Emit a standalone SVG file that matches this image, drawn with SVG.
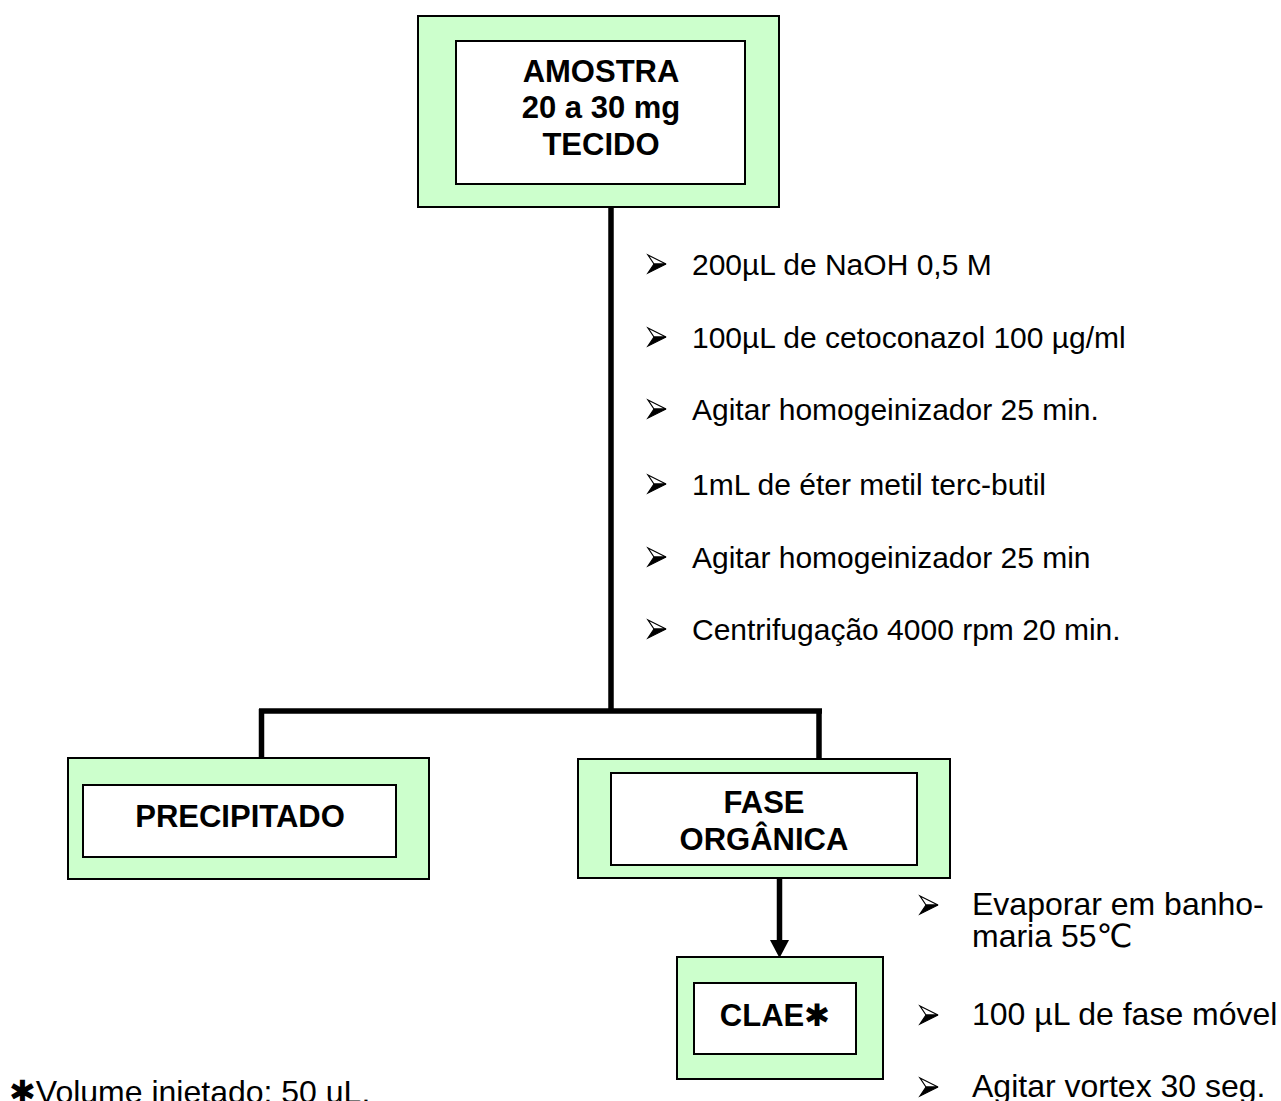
<svg xmlns="http://www.w3.org/2000/svg" xmlns:xlink="http://www.w3.org/1999/xlink" width="1281" height="1101" viewBox="0 0 1281 1101">
<style>
.outer{fill:#CCFFCC;stroke:#000;stroke-width:2}
.inner{fill:#FFFFFF;stroke:#000;stroke-width:2}
.bt{font-family:"Liberation Sans","DejaVu Sans",Arial,sans-serif;font-weight:bold;font-size:31px;fill:#000;text-anchor:middle}
.lt{font-family:"Liberation Sans","DejaVu Sans",Arial,sans-serif;font-size:30px;fill:#000}
.lt2{font-family:"Liberation Sans","DejaVu Sans",Arial,sans-serif;font-size:32px;fill:#000}
.ln{stroke:#000;stroke-width:5.5;fill:none}
</style>
<defs>
<g id="bul">
<polygon points="0,0 18,9 6,9" fill="#fff" stroke="#000" stroke-width="1.2" stroke-linejoin="miter"/>
<polygon points="6,9 18,9 0,18" fill="#000" stroke="#000" stroke-width="1.2"/>
</g>
</defs>
<rect width="1281" height="1101" fill="#fff"/>
<g id="connectors">
<line class="ln" x1="611" y1="207" x2="611" y2="711"/>
<line class="ln" x1="259" y1="711" x2="822" y2="711"/>
<line class="ln" x1="261.5" y1="709" x2="261.5" y2="758"/>
<line class="ln" x1="819" y1="709" x2="819" y2="758"/>
<line class="ln" x1="779.5" y1="878" x2="779.5" y2="942"/>
<polygon points="770,940 789,940 779.5,958" fill="#000"/>
</g>
<g id="node-amostra">
<rect class="outer" x="418" y="16" width="361" height="191"/>
<rect class="inner" x="456" y="41" width="289" height="143"/>
<text class="bt" x="601" y="82">AMOSTRA</text>
<text class="bt" x="601" y="118">20 a 30 mg</text>
<text class="bt" x="601" y="155">TECIDO</text>
</g>
<g id="steps-1">
<use xlink:href="#bul" x="648" y="255"/>
<text class="lt" x="692" y="275">200µL de NaOH 0,5 M</text>
<use xlink:href="#bul" x="648" y="328"/>
<text class="lt" x="692" y="348">100µL de cetoconazol 100 µg/ml</text>
<use xlink:href="#bul" x="648" y="400"/>
<text class="lt" x="692" y="420">Agitar homogeinizador 25 min.</text>
<use xlink:href="#bul" x="648" y="475"/>
<text class="lt" x="692" y="495">1mL de éter metil terc-butil</text>
<use xlink:href="#bul" x="648" y="548"/>
<text class="lt" x="692" y="568">Agitar homogeinizador 25 min</text>
<use xlink:href="#bul" x="648" y="620"/>
<text class="lt" x="692" y="640">Centrifugação 4000 rpm 20 min.</text>
</g>
<g id="node-precipitado">
<rect class="outer" x="68" y="758" width="361" height="121"/>
<rect class="inner" x="83" y="785" width="313" height="72"/>
<text class="bt" x="240" y="827">PRECIPITADO</text>
</g>
<g id="node-fase">
<rect class="outer" x="578" y="759" width="372" height="119"/>
<rect class="inner" x="611" y="773" width="306" height="92"/>
<text class="bt" x="764" y="813">FASE</text>
<text class="bt" x="764" y="850">ORGÂNICA</text>
</g>
<g id="node-clae">
<rect class="outer" x="677" y="957" width="206" height="122"/>
<rect class="inner" x="694" y="983" width="162" height="71"/>
<text class="bt" x="775" y="1026">CLAE✱</text>
</g>
<g id="steps-2">
<use xlink:href="#bul" x="920" y="896"/>
<text class="lt2" x="972" y="915">Evaporar em banho-</text>
<text class="lt2" x="972" y="947">maria 55℃</text>
<use xlink:href="#bul" x="920" y="1006"/>
<text class="lt2" x="972" y="1025">100 µL de fase móvel</text>
<use xlink:href="#bul" x="920" y="1078"/>
<text class="lt2" x="972" y="1097">Agitar vortex 30 seg.</text>
</g>
<g id="footnote">
<text class="lt2" x="9" y="1103">✱Volume injetado: 50 uL.</text>
</g>
</svg>
